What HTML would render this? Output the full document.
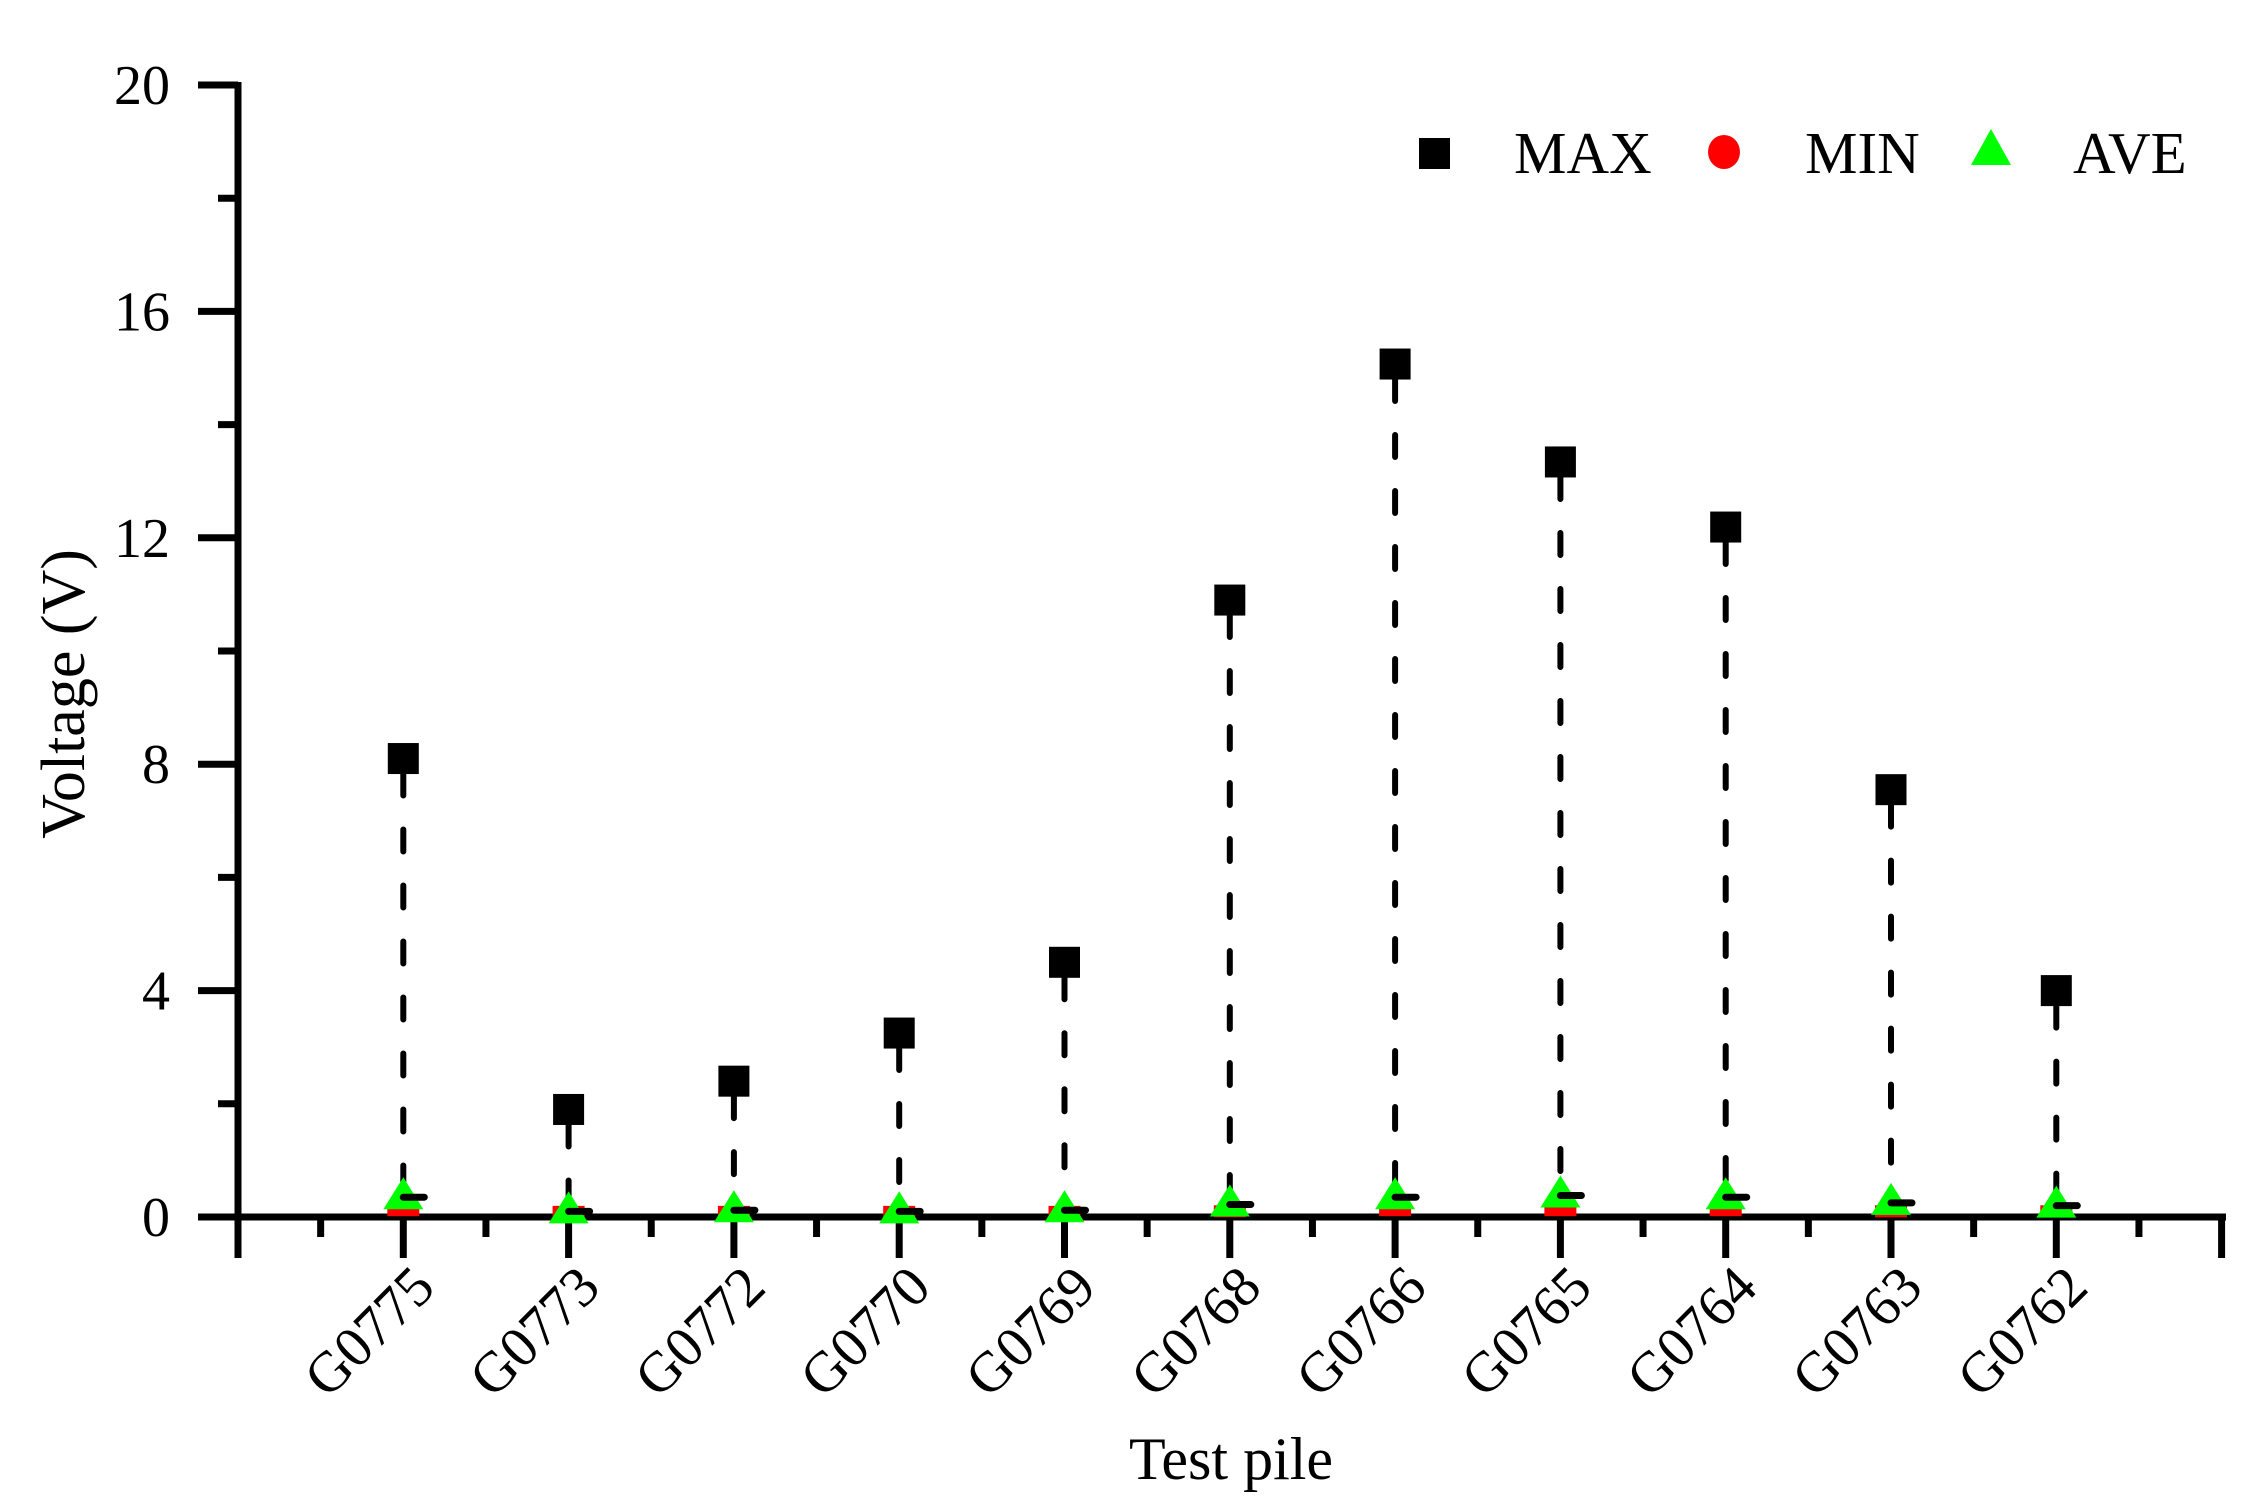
<!DOCTYPE html>
<html><head><meta charset="utf-8"><style>
html,body{margin:0;padding:0;background:#fff;}
svg{display:block;font-family:"Liberation Serif",serif;}
</style></head><body>
<svg id="chart" width="2259" height="1511" viewBox="0 0 2259 1511" xmlns="http://www.w3.org/2000/svg">
<g id="axes"></g>
<g id="series"></g>
<g id="legend">
  <rect x="1419" y="138" width="31" height="31" fill="#000"/>
  <text x="1514" y="173" font-size="59">MAX</text>
  <ellipse cx="1724" cy="152" rx="16" ry="17" fill="#f00"/>
  <text x="1805" y="173" font-size="59">MIN</text>
  <polygon points="1971,165 2011,165 1991,129" fill="#0f0"/>
  <text x="2073" y="173" font-size="59">AVE</text>
</g>
<text transform="translate(84,694) rotate(-90)" text-anchor="middle" font-size="62">Voltage (V)</text>
<text x="1231" y="1479" text-anchor="middle" font-size="60">Test pile</text>
</svg>
<script>
const categories = ["G0775","G0773","G0772","G0770","G0769","G0768","G0766","G0765","G0764","G0763","G0762"];
const maxValues = [8.1, 1.9, 2.4, 3.25, 4.5, 10.9, 15.07, 13.34, 12.19, 7.55, 4.0];
const minValues = [0.05, 0.02, 0.02, 0.02, 0.02, 0.03, 0.05, 0.05, 0.05, 0.03, 0.03];
const aveValues = [0.35, 0.1, 0.12, 0.1, 0.12, 0.22, 0.35, 0.38, 0.35, 0.25, 0.2];
const yTicks = [0, 4, 8, 12, 16, 20];

const NS = "http://www.w3.org/2000/svg";
const X0 = 238, STEP = 165.3, Y0 = 1217, YS = 56.6;
function xPos(i){ return X0 + STEP*(i+1); }
function yPos(v){ return Y0 - v*YS; }
function mk(tag, attrs, parent){
  const e = document.createElementNS(NS, tag);
  for (const k in attrs) e.setAttribute(k, attrs[k]);
  parent.appendChild(e); return e;
}
const axes = document.getElementById('axes');
const series = document.getElementById('series');

let el = mk('line',{x1:X0,y1:yPos(20)-3,x2:X0,y2:1258,stroke:'#000','stroke-width':7},axes);


for (let v=0; v<=20; v+=2){
  const major = v%4===0;
  el = mk('line',{x1:major?198:218,y1:yPos(v),x2:X0,y2:yPos(v),stroke:'#000','stroke-width':7},axes);
  
  
}
yTicks.forEach(v=>{
  el = mk('text',{x:170,y:yPos(v)+19,'text-anchor':'end','font-size':56},axes);
  el.textContent = v;
  
  
});
el = mk('line',{x1:198,y1:Y0,x2:2226,y2:Y0,stroke:'#000','stroke-width':7},axes);


for (let k=0;k<=24;k++){
  const x = X0 + STEP*k/2;
  const major = k%2===0;
  el = mk('line',{x1:x,y1:Y0,x2:x,y2:major?1258:1237,stroke:'#000','stroke-width':7},axes);
  
  
}
categories.forEach((c,i)=>{
  const x = xPos(i)+34, y = 1290;
  el = mk('text',{x:x,y:y,'text-anchor':'end','font-size':57,transform:`rotate(-45 ${x} ${y})`},axes);
  el.textContent = c;
  
  
});
categories.forEach((c,i)=>{
  const x = xPos(i);
  el = mk('line',{x1:x,y1:yPos(maxValues[i])+15,x2:x,y2:yPos(minValues[i]),stroke:'#000','stroke-width':6,'stroke-dasharray':'22 34','stroke-linecap':'round'},series);
  
  
  const yn = yPos(minValues[i]);
  el = mk('rect',{x:x-16,y:yn-10,width:32,height:12,fill:'#f00'},series);
  
  
  const ya = yPos(aveValues[i]);
  el = mk('polygon',{points:`${x-20},${ya+12} ${x+20},${ya+12} ${x},${ya-20}`,fill:'#0f0'},series);
  
  
  el = mk('line',{x1:x,y1:ya,x2:x+21,y2:ya,stroke:'#000','stroke-width':7,'stroke-linecap':'round'},series);
  
  
  const ym = yPos(maxValues[i]);
  el = mk('rect',{x:x-15.5,y:ym-15.5,width:31,height:31,fill:'#000'},series);
  
  
});
</script>
</body></html>
